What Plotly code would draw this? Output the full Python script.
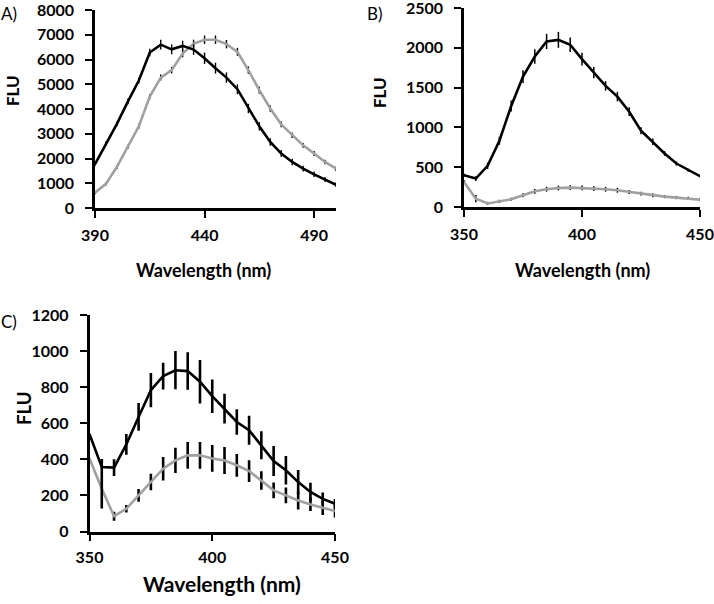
import plotly.graph_objects as go

# ---------------- Data ----------------
wl_a = [390, 395, 400, 405, 410, 415, 420, 425, 430, 435, 440, 445, 450, 455, 460,
        465, 470, 475, 480, 485, 490, 495, 500]
a_black = [1770, 2600, 3400, 4300, 5150, 6280, 6600, 6410, 6550, 6400, 6050, 5650, 5270,
           4800, 4020, 3300, 2670, 2200, 1860, 1590, 1360, 1150, 940]
a_black_err = [80, 90, 100, 110, 120, 150, 200, 200, 210, 210, 230, 220, 210, 200, 190, 170,
               150, 140, 130, 120, 110, 100, 90]
a_gray = [620, 980, 1660, 2470, 3300, 4500, 5270, 5570, 6240, 6640, 6800, 6800, 6620,
          6310, 5570, 4760, 4020, 3380, 2940, 2530, 2200, 1860, 1590]
a_gray_err = [60, 70, 80, 90, 100, 110, 120, 130, 150, 160, 170, 170, 170, 160, 150, 140,
              130, 120, 110, 100, 100, 90, 90]

wl_bc = [350, 355, 360, 365, 370, 375, 380, 385, 390, 395, 400, 405, 410, 415, 420,
         425, 430, 435, 440, 445, 450]
b_black = [400, 357, 517, 832, 1269, 1639, 1891, 2080, 2100, 2038, 1857, 1689, 1521, 1387,
           1197, 958, 819, 672, 546, 462, 387]
b_black_err = [20, 30, 40, 50, 70, 80, 90, 95, 100, 90, 80, 70, 60, 60, 55, 45, 40, 30, 25,
               20, 15]
b_gray = [315, 105, 45, 71, 97, 147, 197, 223, 239, 244, 239, 231, 223, 210, 189, 168, 147,
          130, 118, 109, 92]
b_gray_err = [20, 45, 20, 20, 20, 25, 30, 30, 30, 30, 30, 30, 30, 30, 25, 25, 25, 20, 20,
              20, 20]

c_black = [540, 357, 354, 483, 635, 783, 861, 894, 889, 830, 750, 681, 607, 561, 478, 391,
           339, 274, 219, 181, 154]
c_black_err_plus = [0, 45, 46, 58, 77, 95, 74, 106, 104, 120, 93, 83, 71, 80, 77, 83, 79,
                    67, 51, 35, 26]
c_black_err_minus = [0, 230, 46, 58, 77, 95, 74, 106, 104, 120, 93, 83, 71, 80, 77, 83, 79,
                     67, 51, 35, 26]
c_gray = [404, 237, 85, 126, 200, 274, 348, 394, 422, 422, 405, 394, 367, 335, 283, 228,
          200, 172, 150, 131, 113]
c_gray_err = [0, 0, 25, 21, 35, 46, 65, 70, 74, 74, 74, 75, 63, 60, 51, 44, 44, 50, 37, 40,
              35]

# ---------------- Figure ----------------
W, H = 714, 604
BLACK = "#000000"
GRAY = "#a0a0a0"
FONT = "Lato"


def fx(px):
    return px / W


def fy(py):
    return 1 - py / H


fig = go.Figure()


def add_series(x, y, err_p, err_m, color, xa, ya, thick):
    fig.add_trace(go.Scatter(
        x=x, y=y, mode="lines", xaxis=xa, yaxis=ya,
        line=dict(color=color, width=2.6),
        error_y=dict(type="data", array=err_p, arrayminus=err_m, symmetric=False,
                     color=BLACK, thickness=thick, width=0, visible=True),
        showlegend=False, hoverinfo="x+y",
    ))


add_series(wl_a, a_gray, a_gray_err, a_gray_err, GRAY, "x", "y", 1.4)
add_series(wl_a, a_black, a_black_err, a_black_err, BLACK, "x", "y", 1.4)
add_series(wl_bc, b_gray, b_gray_err, b_gray_err, GRAY, "x2", "y2", 1.5)
add_series(wl_bc, b_black, b_black_err, b_black_err, BLACK, "x2", "y2", 1.5)
add_series(wl_bc, c_gray, c_gray_err, c_gray_err, GRAY, "x3", "y3", 2.6)
add_series(wl_bc, c_black, c_black_err_plus, c_black_err_minus, BLACK, "x3", "y3", 2.6)

tickfont = dict(family=FONT, size=16, color=BLACK, weight="bold")
axis_common = dict(showgrid=False, zeroline=False, showline=True, linecolor=BLACK,
                   linewidth=2.5, ticks="outside", ticklen=7, tickwidth=2,
                   tickcolor=BLACK, tickfont=tickfont, mirror=False, fixedrange=True,
                   automargin=False, ticklabeloverflow="allow")

fig.update_layout(
    template="none",
    width=W, height=H,
    margin=dict(l=0, r=0, t=0, b=0, pad=0, autoexpand=False),
    paper_bgcolor="white", plot_bgcolor="white",
    xaxis=dict(domain=[fx(95), fx(336)], range=[390, 500], tickvals=[390, 440, 490],
               anchor="y", ticklabelstandoff=4, **axis_common),
    yaxis=dict(domain=[fy(208), fy(10)], range=[0, 8000], dtick=1000,
               anchor="x", ticklabelstandoff=8, **axis_common),
    xaxis2=dict(domain=[fx(464), fx(700)], range=[350, 450], tickvals=[350, 400, 450],
                anchor="y2", ticklabelstandoff=4, **axis_common),
    yaxis2=dict(domain=[fy(207), fy(8)], range=[0, 2500], dtick=500,
                anchor="x2", ticklabelstandoff=8, **axis_common),
    xaxis3=dict(domain=[fx(89.5), fx(335)], range=[350, 450], tickvals=[350, 400, 450],
                anchor="y3", ticklabelstandoff=3, **axis_common),
    yaxis3=dict(domain=[fy(531.5), fy(315)], range=[0, 1200], dtick=200,
                anchor="x3", ticklabelstandoff=8, **axis_common),
)

ann = []


def text(x, y, s, size, bold=True, angle=0, xanchor="center"):
    ann.append(dict(x=fx(x), y=fy(y), xref="paper", yref="paper", text=s,
                    showarrow=False, textangle=angle, xanchor=xanchor, yanchor="middle",
                    font=dict(family=FONT, size=size, color=BLACK,
                              weight="bold" if bold else "normal")))


text(203.5, 270, "Wavelength (nm)", 18)
text(582.5, 270, "Wavelength (nm)", 18)
text(222, 583, "Wavelength (nm)", 21)
text(13, 91, "FLU", 17, angle=-90)
text(379, 93, "FLU", 17, angle=-90)
text(24, 409, "FLU", 18.5, angle=-90)
text(-1, 13, "A)", 17, bold=False, xanchor="left")
text(365, 13, "B)", 17, bold=False, xanchor="left")
text(-1, 321, "C)", 17, bold=False, xanchor="left")
fig.update_layout(annotations=ann)

fig.write_html("out.html",
               config={"displayModeBar": False, "staticPlot": False},
               post_script="document.body.style.margin='0';document.body.style.padding='0';")
